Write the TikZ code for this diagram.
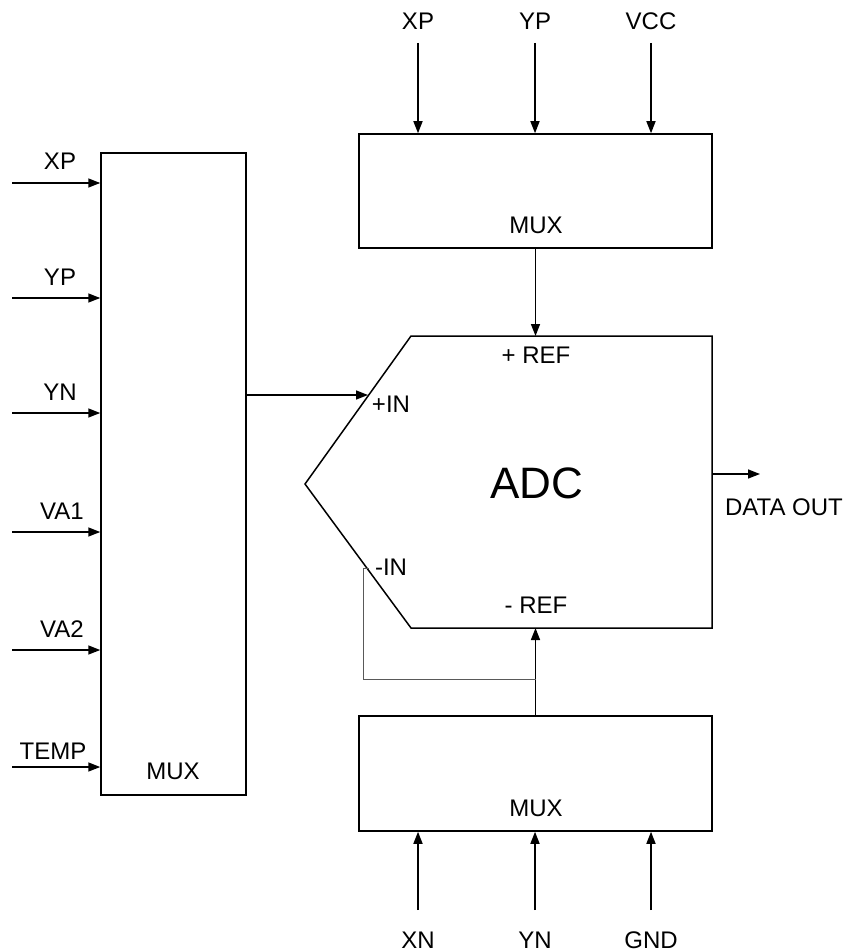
\documentclass[tikz,border=0pt]{standalone}
\usepackage{fontspec}
\setmainfont{Liberation Sans}
\usetikzlibrary{arrows.meta}
\begin{document}
\begin{tikzpicture}[x=1pt,y=-1pt,
  wire/.style={line width=1.5pt,-{Triangle[length=12pt,width=9pt]}},
  plain/.style={line width=1.5pt},
  boxn/.style={draw,line width=1.5pt,inner sep=0pt},
  lbl/.style={font=\fontsize{24}{28}\selectfont,inner sep=0pt,anchor=base},
  thin/.style={line width=1pt,draw=black!65}]
\useasboundingbox (0,0) rectangle (848,952);
% boxes
\node[boxn,minimum width=145pt,minimum height=642pt] (lmux) at (173.5,474) {};
\node[boxn,minimum width=353pt,minimum height=114pt] (tmux) at (535.5,191) {};
\node[boxn,minimum width=353pt,minimum height=115pt] (bmux) at (535.5,773.5) {};
\node[lbl] (lmuxt) at (173,779) {MUX};
\node[lbl] (tmuxt) at (536,233) {MUX};
\node[lbl] (bmuxt) at (536,816) {MUX};
% ADC polygon
\coordinate (a1) at (411,336);
\coordinate (a2) at (712,336);
\coordinate (a3) at (712,628);
\coordinate (a4) at (411,628);
\coordinate (a5) at (305,484);
\draw[plain,line join=miter] (a1) -- (a2) -- (a3) -- (a4) -- (a5) -- cycle;
\node[font=\fontsize{44}{50}\selectfont,inner sep=0pt] (adc) at (537,483) {ADC};
\node[lbl] (pref) at (536,363) {+ REF};
\node[lbl] (nref) at (536,613) {- REF};
\node[lbl] (pin) at (391,412) {+IN};
\node[lbl] (nin) at (391,575) {-IN};
\node[lbl] (dout) at (784,515) {DATA OUT};
% left inputs
\foreach \n/\y/\t/\c/\d in {i1/183/XP/60/13, i2/298/YP/60/13, i3/413/YN/60/13, i4/532/VA1/62/13, i5/650/VA2/62/13, i6/767/TEMP/53/8}{
  \coordinate (\n) at (12,\y);
  \node[lbl] (\n t) at (\c,\y-\d) {\t};
  \draw[wire] (\n) -- (lmux.west |- \n);
}
% top inputs
\foreach \n/\x/\t in {t1/418/XP, t2/535/YP, t3/651/VCC}{
  \coordinate (\n) at (\x,43);
  \node[lbl] (\n t) at (\x,30) {\t};
  \draw[wire] (\n) -- (tmux.north -| \n);
}
% bottom inputs
\foreach \n/\x/\t in {b1/418/XN, b2/535/YN, b3/651/GND}{
  \coordinate (\n) at (\x,910);
  \node[lbl] (\n t) at (\x,948) {\t};
  \draw[wire] (\n) -- (bmux.south -| \n);
}
% connections
\coordinate (pinp) at (368,395);
\draw[wire] (lmux.east |- pinp) -- (pinp);
\coordinate (prefp) at (535.5,336);
\draw[wire] (tmux.south) -- (prefp);
\coordinate (nrefp) at (535.5,628);
\draw[wire] (bmux.north) -- (nrefp);
\coordinate (doutp) at (760,474);
\draw[wire] (a2 |- doutp) -- (doutp);
% feedback line
\coordinate (f1) at (369,568);
\coordinate (f2) at (363,568);
\coordinate (f3) at (363,679);
\coordinate (f4) at (535.5,679);
\draw[thin] (f1) -- (f2) -- (f3) -- (f4);
\end{tikzpicture}
\end{document}
